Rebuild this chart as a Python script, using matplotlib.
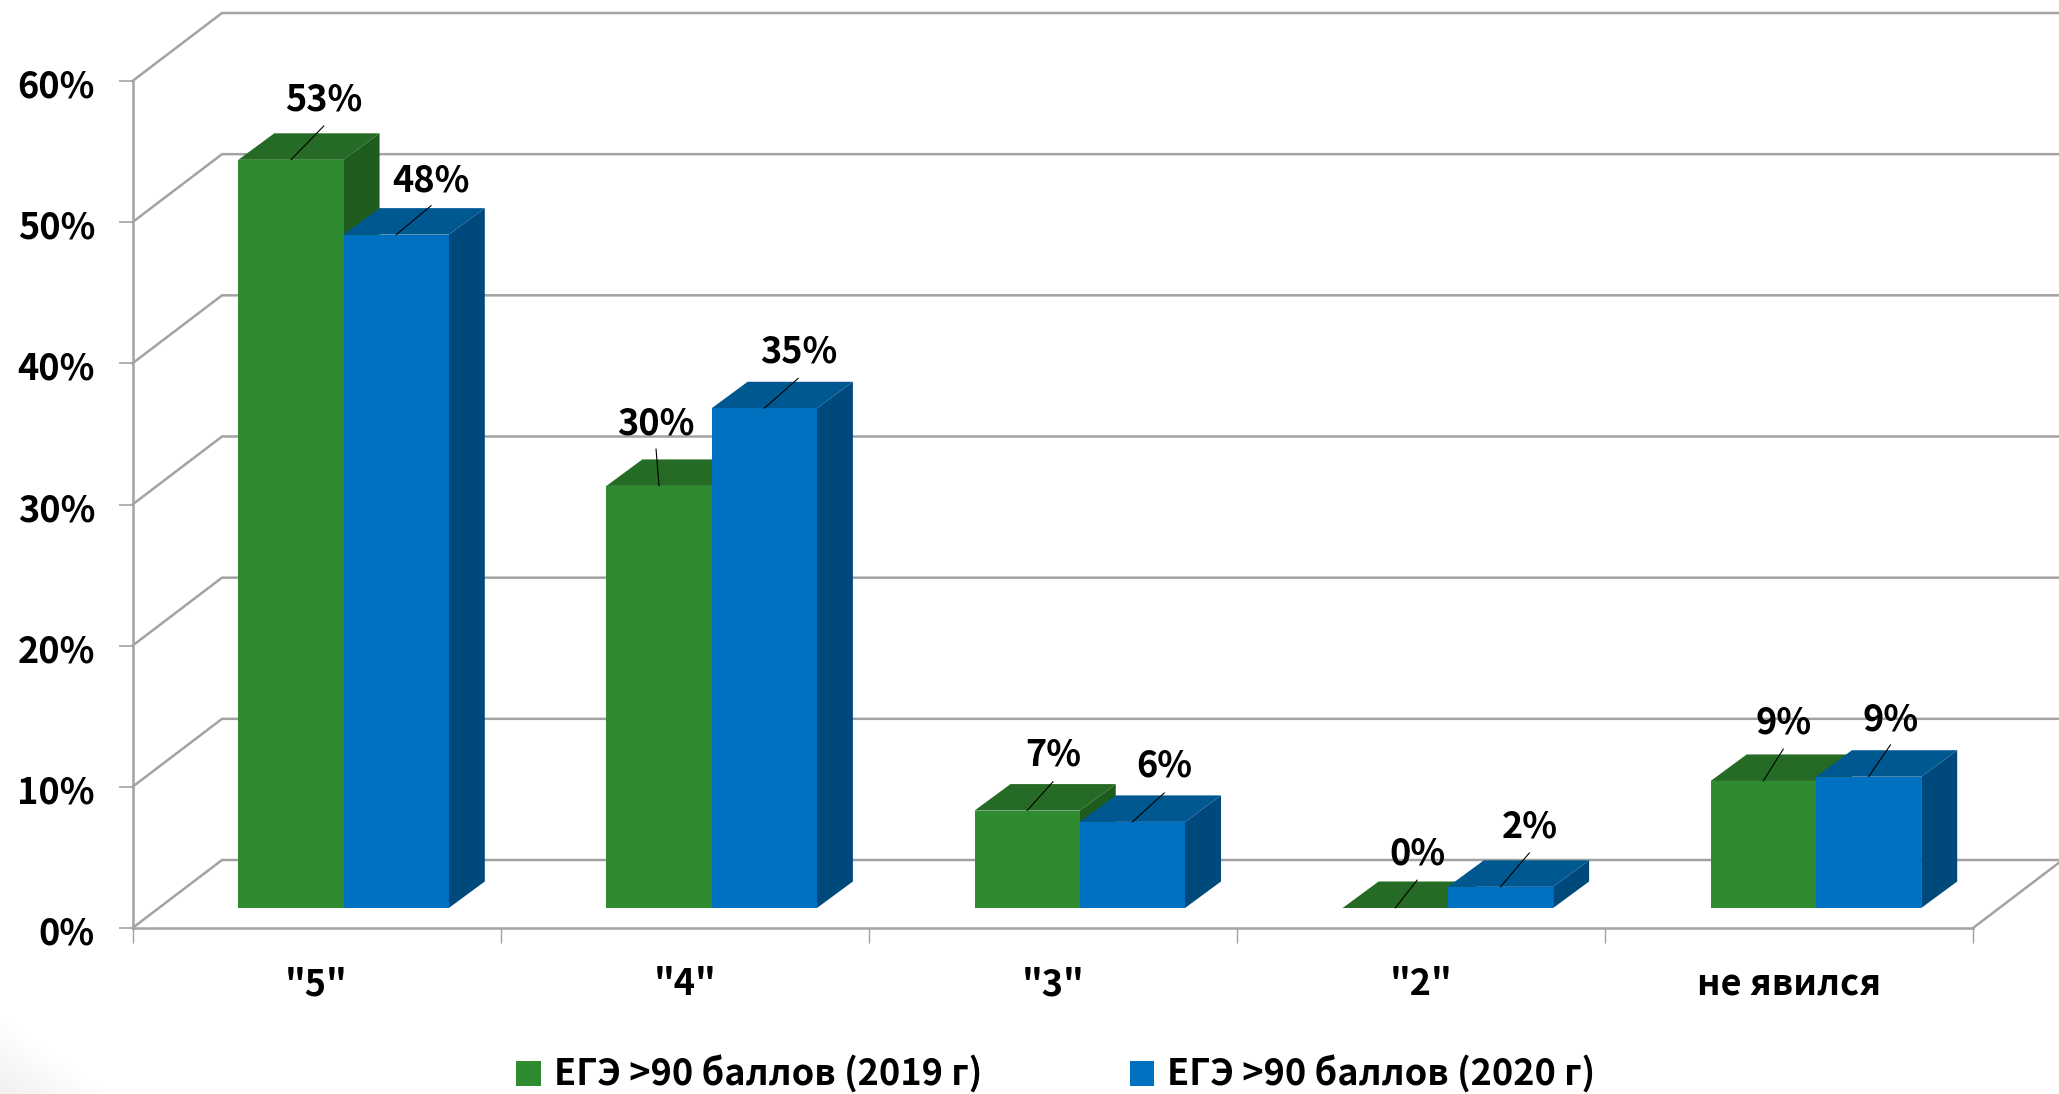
import numpy as np
import matplotlib
matplotlib.use("Agg")
import matplotlib.pyplot as plt
from matplotlib.patches import Polygon, Patch
from matplotlib.transforms import ScaledTranslation

plt.rcParams["font.family"] = ["Noto Sans CJK SC", "DejaVu Sans"]
plt.rcParams["font.weight"] = "bold"

categories = ['"5"', '"4"', '"3"', '"2"', "не явился"]
values_2019 = [53.0, 29.9, 6.9, 0.0, 9.0]
values_2020 = [47.7, 35.4, 6.1, 1.5, 9.3]
series_names = ["ЕГЭ >90 баллов (2019 г)", "ЕГЭ >90 баллов (2020 г)"]
y_ticks = [0, 10, 20, 30, 40, 50, 60]

W, H = 2059, 1094
LEFT, RIGHT, BOTTOM, TOP = 132.5, 1973, 928, 81

# colours: front, top, side
GREEN = ("#2e8b30", "#256b25", "#1e5c1e")
BLUE = ("#0070c0", "#005890", "#00497d")
GRID = "#a3a3a3"
FS = 26

# label offsets from the leader start, pixels (leader end, text centre)
OFFS_2019 = [((33, 34), (33, 60)), ((-3, 37), (-3, 62)), ((26, 29), (26, 56)),
             ((22, 28), (22, 54)), ((20, 32), (20, 58))]
OFFS_2020 = [((35, 29), (35, 54)), ((34, 30), (34, 56)), ((32, 29), (32, 56)),
             ((29, 34), (29, 60)), ((22, 32), (22, 57))]


def main():
    fig = plt.figure(figsize=(W / 100, H / 100), dpi=100)

    # faint shadow in the lower left corner
    corner = fig.add_axes([0, 0, 110 / W, 80 / H], zorder=-1)
    xx, yy = np.meshgrid(np.linspace(0, 1, 110), np.linspace(0, 1, 80))
    corner.imshow(np.clip(1 - (xx + yy), 0, 1), cmap="Greys", vmin=0, vmax=8,
                  origin="lower", aspect="auto")
    corner.axis("off")

    ax = fig.add_axes([LEFT / W, 1 - BOTTOM / H, (RIGHT - LEFT) / W, (BOTTOM - TOP) / H])
    ax.set_xlim(0, 5)
    ax.set_ylim(0, 60)
    ax.patch.set_visible(False)

    # px to data units
    ux = 5 / (RIGHT - LEFT)
    uy = 60 / (BOTTOM - TOP)

    # walls
    wall_dx, wall_dy = 89.5 * ux, 68 * uy
    for v in y_ticks:
        ax.plot([0, wall_dx, 5 + wall_dx], [v, v + wall_dy, v + wall_dy],
                color=GRID, lw=1.8, clip_on=False, zorder=1, solid_joinstyle="miter")
    ax.plot([5, 5 + wall_dx], [0, wall_dy], color=GRID, lw=1.8, clip_on=False, zorder=1)

    for s in ["top", "right"]:
        ax.spines[s].set_visible(False)
    for s in ["left", "bottom"]:
        ax.spines[s].set_color(GRID)
        ax.spines[s].set_linewidth(1.8)

    ax.set_yticks(y_ticks)
    ax.set_yticklabels([f"{v}%" for v in y_ticks])
    ax.set_xticks(range(6))
    ax.set_xticklabels([])
    ax.set_xticks(np.arange(5) + 0.5, minor=True)
    ax.set_xticklabels(categories, minor=True)
    ax.tick_params(axis="y", length=10, width=1.2, color=GRID, labelsize=FS, pad=17)
    ax.tick_params(axis="x", which="major", length=11, width=1, color=GRID)
    ax.tick_params(axis="x", which="minor", length=0, labelsize=FS, pad=27.5)

    # nudge the percent labels down a little
    nudge = ScaledTranslation(0, -2 / 100, fig.dpi_scale_trans)
    for lab in ax.get_yticklabels():
        lab.set_transform(lab.get_transform() + nudge)

    # bars
    bar_w = 105.25 * ux
    shift_x, shift_y = 27 * ux, 20 * uy
    depth_x, depth_y = 36 * ux, 26.5 * uy

    def draw_bar(x0, v, cols, z):
        x1 = x0 + bar_w
        y0 = shift_y
        y1 = shift_y + v
        ax.add_patch(Polygon([(x1, y0), (x1 + depth_x, y0 + depth_y), (x1 + depth_x, y1 + depth_y), (x1, y1)],
                             fc=cols[2], ec="none", clip_on=False, zorder=z))
        ax.add_patch(Polygon([(x0, y1), (x0 + depth_x, y1 + depth_y), (x1 + depth_x, y1 + depth_y), (x1, y1)],
                             fc=cols[1], ec="none", clip_on=False, zorder=z))
        if v > 0:
            ax.add_patch(Polygon([(x0, y0), (x1, y0), (x1, y1), (x0, y1)],
                                 fc=cols[0], ec="none", clip_on=False, zorder=z + 0.1))

    def draw_label(x, v, offs):
        (lx, ly), (tx, ty) = offs
        xy = (x, shift_y + v)
        ax.annotate("", xy=xy, xytext=(lx, ly), textcoords="offset pixels",
                    arrowprops=dict(arrowstyle="-", color="black", lw=0.8, shrinkA=0, shrinkB=0), zorder=20)
        ax.annotate(f"{v:.0f}%", xy=xy, xytext=(tx, ty), textcoords="offset pixels",
                    ha="center", va="center", fontsize=FS, zorder=21)

    for i in range(len(categories)):
        x_g = i + 0.5 + shift_x - bar_w
        x_b = i + 0.5 + shift_x
        draw_bar(x_g, values_2019[i], GREEN, 3 + i)
        draw_bar(x_b, values_2020[i], BLUE, 3.5 + i)
    for i in range(len(categories)):
        x_g = i + 0.5 + shift_x - bar_w
        x_b = i + 0.5 + shift_x
        draw_label(x_g + bar_w / 2, values_2019[i], OFFS_2019[i])
        draw_label(x_b + bar_w / 2, values_2020[i], OFFS_2020[i])

    handles = [Patch(fc=GREEN[0], label=series_names[0]), Patch(fc=BLUE[0], label=series_names[1])]
    fig.legend(handles=handles, ncol=2, loc="center", bbox_to_anchor=(1056 / W, 1 - 1075 / H),
               frameon=False, fontsize=FS, handlelength=0.67, handleheight=0.67,
               handletextpad=0.36, columnspacing=4.1, borderpad=0)

    fig.savefig("out.png", dpi=100)


if __name__ == "__main__":
    main()
